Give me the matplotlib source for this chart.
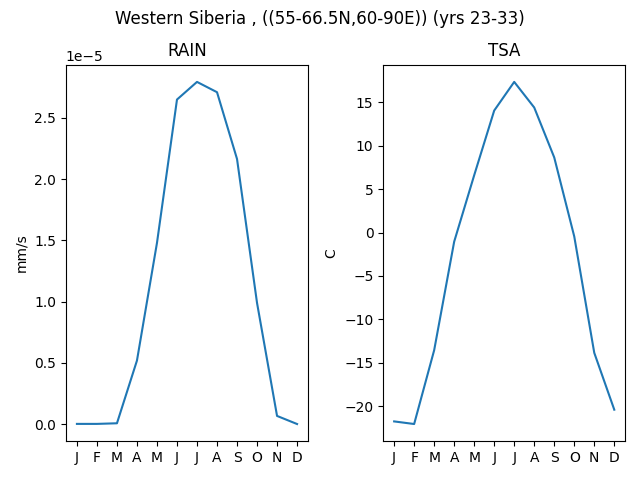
import matplotlib
matplotlib.use("Agg")
import matplotlib.pyplot as plt

months = ["J", "F", "M", "A", "M", "J", "J", "A", "S", "O", "N", "D"]
rain = [0.003e-5, 0.003e-5, 0.008e-5, 0.52e-5, 1.48e-5, 2.65e-5, 2.794e-5, 2.71e-5, 2.165e-5, 0.99e-5, 0.068e-5, 0.002e-5]
tsa = [-21.75, -22.05, -13.55, -1.05, 6.6, 14.05, 17.35, 14.4, 8.65, -0.45, -13.85, -20.4]

fig, axes = plt.subplots(1, 2, figsize=(6.4, 4.8), dpi=100)
x = list(range(len(months)))

axes[0].plot(x, rain)
axes[0].set_title("RAIN")
axes[0].set_ylabel("mm/s")
axes[0].set_xticks(x)
axes[0].set_xticklabels(months)

axes[1].plot(x, tsa)
axes[1].set_title("TSA")
axes[1].set_ylabel("C")
axes[1].set_xticks(x)
axes[1].set_xticklabels(months)

fig.suptitle("Western Siberia , ((55-66.5N,60-90E)) (yrs 23-33)")
fig.subplots_adjust(left=0.103, right=0.977, bottom=0.081, top=0.865, wspace=0.31)
fig.savefig("out.png")
